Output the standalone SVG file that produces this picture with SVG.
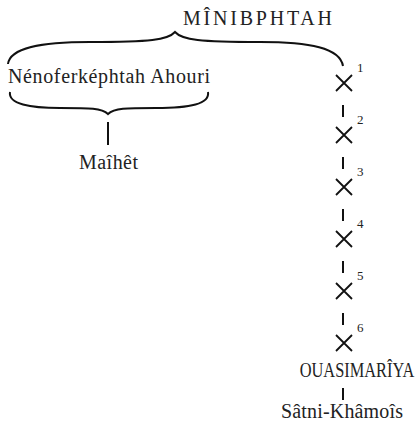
<svg xmlns="http://www.w3.org/2000/svg" width="416" height="428" viewBox="0 0 416 428">
<style>
text{font-family:"Liberation Serif","DejaVu Serif",serif;fill:#222}
.n{font-size:20px}
.c{font-size:20px}
.s{font-size:13px}
.ln{stroke:#111;stroke-width:2;fill:none}
.br{stroke:#111;stroke-width:2;fill:none}
</style>
<defs>
<g id="x"><path d="M-8 -8 L8 8 M8 -8 L-8 8" stroke="#111" stroke-width="1.8" fill="none"/></g>
</defs>
<rect width="416" height="428" fill="#fff"/>
<g id="connectors">
<path class="br" d="M8 64 C10 48 40 42 90 42 C150 42 168 40 175 32 C182 40 200 42 260 42 C310 42 340 48 343 66"/>
<path class="br" d="M10 92 C8 104 30 108 60 108 C90 108 102 108 108 114 C114 108 126 108 156 108 C190 108 210 104 208 92"/>
<line class="ln" x1="108" y1="122" x2="108" y2="145"/>
<line class="ln" x1="343" y1="105" x2="343" y2="117"/>
<line class="ln" x1="343" y1="157" x2="343" y2="169"/>
<line class="ln" x1="343" y1="209" x2="343" y2="221"/>
<line class="ln" x1="343" y1="261" x2="343" y2="273"/>
<line class="ln" x1="343" y1="313" x2="343" y2="325"/>
<line class="ln" x1="343" y1="388" x2="343" y2="400"/>
</g>
<g id="minibphtah"><text class="c" x="183" y="25" textLength="149" lengthAdjust="spacing">MÎNIBPHTAH</text></g>
<g id="nenoferkephtah"><text class="n" x="8" y="83" textLength="202" lengthAdjust="spacing">Nénoferképhtah Ahouri</text></g>
<g id="maihet"><text class="n" x="79" y="169" textLength="59" lengthAdjust="spacing">Maîhêt</text></g>
<g id="g1"><use href="#x" x="344" y="83"/><text class="s" x="357" y="72">1</text></g>
<g id="g2"><use href="#x" x="344" y="135"/><text class="s" x="357" y="124">2</text></g>
<g id="g3"><use href="#x" x="344" y="187"/><text class="s" x="357" y="176">3</text></g>
<g id="g4"><use href="#x" x="344" y="239"/><text class="s" x="357" y="228">4</text></g>
<g id="g5"><use href="#x" x="344" y="291"/><text class="s" x="357" y="280">5</text></g>
<g id="g6"><use href="#x" x="344" y="343"/><text class="s" x="357" y="332">6</text></g>
<g id="ouasimariya"><text class="c" x="0" y="0" text-anchor="middle" transform="translate(357 377) scale(0.82 1)">OUASIMARÎYA</text></g>
<g id="satni"><text class="n" x="281" y="418" textLength="122" lengthAdjust="spacing">Sâtni-Khâmoîs</text></g>
</svg>
